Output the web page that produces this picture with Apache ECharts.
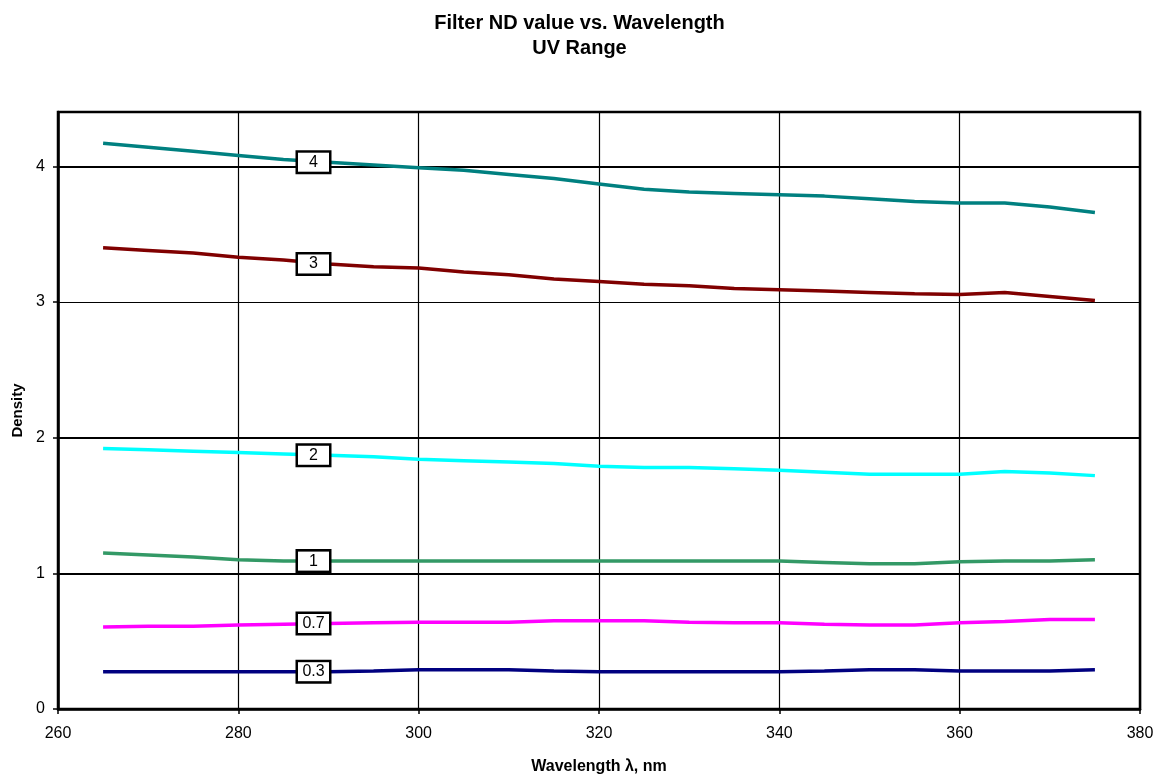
<!DOCTYPE html>
<html>
<head>
<meta charset="utf-8">
<script src="https://cdn.jsdelivr.net/npm/echarts@6/dist/echarts.min.js"></script>
<style>
html,body{margin:0;padding:0;background:#fff;}
#chart{width:1159px;height:775px;}
</style>
</head>
<body>
<div id="chart"></div>
<script>
var wavelengths = [265,270,275,280,285,290,295,300,305,310,315,320,325,330,335,340,345,350,355,360,365,370,375];
var nd4  = [4.17,4.14,4.11,4.08,4.05,4.03,4.01,3.99,3.97,3.94,3.91,3.87,3.83,3.81,3.80,3.79,3.78,3.76,3.74,3.73,3.73,3.70,3.66];
var nd3  = [3.40,3.38,3.36,3.33,3.31,3.28,3.26,3.25,3.22,3.20,3.17,3.15,3.13,3.12,3.10,3.09,3.08,3.07,3.06,3.055,3.07,3.04,3.01];
var nd2  = [1.92,1.91,1.90,1.89,1.88,1.87,1.86,1.84,1.83,1.82,1.81,1.79,1.78,1.78,1.77,1.76,1.745,1.73,1.73,1.73,1.75,1.74,1.72];
var nd1  = [1.15,1.135,1.12,1.10,1.09,1.09,1.09,1.09,1.09,1.09,1.09,1.09,1.09,1.09,1.09,1.09,1.08,1.07,1.07,1.085,1.09,1.09,1.10];
var nd07 = [0.605,0.61,0.61,0.62,0.625,0.63,0.635,0.64,0.64,0.64,0.65,0.65,0.65,0.64,0.635,0.635,0.625,0.62,0.62,0.635,0.645,0.66,0.66];
var nd03 = [0.275,0.275,0.275,0.275,0.275,0.275,0.28,0.29,0.29,0.29,0.28,0.275,0.275,0.275,0.275,0.275,0.28,0.29,0.29,0.28,0.28,0.28,0.29];
var seriesNames = ['4','3','2','1','0.7','0.3'];
var seriesColors = ['#008080','#800000','#00FFFF','#339966','#FF00FF','#000080'];
var seriesValues = [nd4, nd3, nd2, nd1, nd07, nd03];
var labelAt = 290;
var xTicks = [260,280,300,320,340,360,380];
var yTicks = [0,1,2,3,4];
var heavyGrid = [1,2,4];

var chart = echarts.init(document.getElementById('chart'));
var font = 'Liberation Sans, Arial, sans-serif';

var series = seriesValues.map(function(vals, si){
  var data = wavelengths.map(function(w, i){
    var item = {value:[w, vals[i]]};
    if (w === labelAt) {
      item.label = {
        show: true,
        position: 'inside',
        formatter: seriesNames[si],
        color: '#000',
        fontFamily: font,
        fontSize: 16,
        backgroundColor: '#fff',
        borderColor: '#000',
        borderWidth: 2.5,
        width: 31,
        height: 19,
        lineHeight: 19,
        align: 'center',
        verticalAlign: 'middle',
        padding: [0,0,0,0]
      };
    }
    return item;
  });
  var s = {
    name: seriesNames[si],
    type: 'line',
    data: data,
    showSymbol: true,
    symbol: 'circle',
    symbolSize: 0.01,
    z: 5,
    lineStyle: {color: seriesColors[si], width: 3.5},
    itemStyle: {color: seriesColors[si]},
    labelLayout: {hideOverlap: false, dx: -15},
    animation: false
  };
  if (si === 0) {
    s.markLine = {
      silent: true,
      symbol: 'none',
      z: 2,
      label: {show: false},
      lineStyle: {color: '#000', width: 2, type: 'solid'},
      data: heavyGrid.map(function(v){ return {yAxis: v}; }),
      animation: false
    };
  }
  return s;
});

chart.setOption({
  backgroundColor: '#fff',
  animation: false,
  title: {
    text: 'Filter ND value vs. Wavelength\nUV Range',
    left: 'center',
    top: 6,
    textStyle: {fontFamily: font, fontSize: 20, fontWeight: 'bold', color: '#000', lineHeight: 25}
  },
  grid: {left: 58, right: 19, top: 112, bottom: 66, outerBoundsMode: 'none', containLabel: false,
    show: true, borderColor: '#000', borderWidth: 2.5, backgroundColor: 'transparent'},
  xAxis: {
    type: 'value',
    min: 260, max: 380, interval: 20,
    name: 'Wavelength \u03bb, nm',
    nameLocation: 'middle',
    nameGap: 50,
    nameTextStyle: {fontFamily: font, fontSize: 16, fontWeight: 'bold', color: '#000'},
    axisLine: {show: true, lineStyle: {color: '#000', width: 2.5}},
    axisTick: {show: true, inside: false, length: 5, lineStyle: {color: '#000', width: 1.5}},
    axisLabel: {fontFamily: font, fontSize: 16, color: '#000', margin: 17,
      formatter: function(v){ return xTicks.indexOf(v) >= 0 ? String(v) : ''; }},
    splitLine: {show: true, lineStyle: {color: '#000', width: 1.2}}
  },
  yAxis: {
    type: 'value',
    min: 0, max: 4.4, interval: 1,
    name: 'Density',
    nameLocation: 'middle',
    nameGap: 33,
    nameRotate: 90,
    nameTextStyle: {fontFamily: font, fontSize: 15, fontWeight: 'bold', color: '#000'},
    axisLine: {show: true, lineStyle: {color: '#000', width: 2.5}},
    axisTick: {show: true, inside: false, length: 5, lineStyle: {color: '#000', width: 1.5},
      customValues: yTicks},
    axisLabel: {fontFamily: font, fontSize: 16, color: '#000', margin: 13,
      customValues: yTicks,
      formatter: function(v){ return yTicks.indexOf(v) >= 0 ? String(v) : ''; }},
    splitLine: {show: true, lineStyle: {color: '#000', width: 1.2}}
  },
  series: series
});
</script>
</body>
</html>
